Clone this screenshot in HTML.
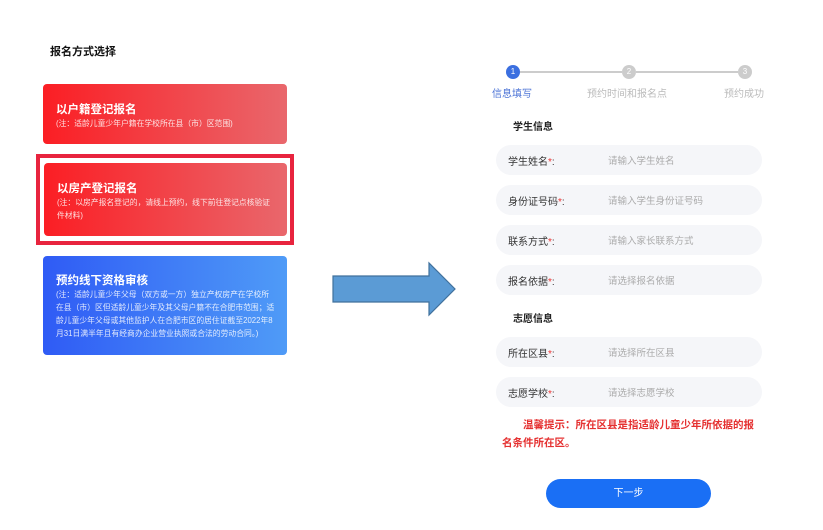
<!DOCTYPE html>
<html><head><meta charset="utf-8"><style>
*{margin:0;padding:0;box-sizing:border-box}
body{width:823px;height:530px;background:#fff;position:relative;overflow:hidden;font-family:"Liberation Sans","Noto Sans CJK SC",sans-serif}
.a{position:absolute;white-space:nowrap}
.card{position:absolute;border-radius:4px;color:#fff;padding-left:13px}
.card .t{font-size:11.5px;font-weight:bold;line-height:14px}
.card .n{font-size:7.8px;line-height:13px;opacity:.85;white-space:normal}
.row{position:absolute;left:496px;width:266px;height:30px;border-radius:15px;background:#f5f6f9}
.row .l{position:absolute;left:12px;top:8px;font-size:10px;color:#333}
.row .l b{color:#e33;font-weight:normal}
.row .p{position:absolute;left:112px;top:8px;font-size:9.5px;color:#aaa}
.sec{font-size:10px;font-weight:bold;color:#222}
.c{position:absolute;width:14px;height:14px;border-radius:50%;color:#fff;font-size:8px;text-align:center;line-height:14px}
</style></head><body>
<div class="a" style="left:50px;top:43px;font-size:11px;font-weight:bold;color:#111">报名方式选择</div>

<div class="card" style="left:43px;top:84px;width:244px;height:60px;background:linear-gradient(90deg,#fb1e24,#e9676c);padding-top:19px">
<div class="t">以户籍登记报名</div><div class="n">(注：适龄儿童少年户籍在学校所在县（市）区范围)</div></div>

<div class="a" style="left:36px;top:154px;width:258px;height:91px;border:4px solid #e8243e"></div>
<div class="card" style="left:44px;top:163px;width:243px;height:73px;background:linear-gradient(90deg,#fb1e24,#e9676c);padding-top:19px;padding-right:10px">
<div class="t">以房产登记报名</div><div class="n">(注：以房产报名登记的，请线上预约，线下前往登记点核验证件材料)</div></div>

<div class="card" style="left:43px;top:256px;width:244px;height:99px;background:linear-gradient(90deg,#2f5bf5,#4f9bf7);padding-top:18px;padding-right:12px">
<div class="t">预约线下资格审核</div><div class="n">(注：适龄儿童少年父母（双方或一方）独立产权房产在学校所在县（市）区但适龄儿童少年及其父母户籍不在合肥市范围；适龄儿童少年父母或其他监护人在合肥市区的居住证截至2022年8月31日满半年且有经商办企业营业执照或合法的劳动合同。)</div></div>

<svg class="a" style="left:0;top:0" width="823" height="530"><polygon points="333,276 429,276 429,263 455,289 429,315 429,302 333,302" fill="#5b9bd5" stroke="#41719c" stroke-width="1.2"/>
<line x1="520" y1="72" x2="622" y2="72" stroke="#ccc" stroke-width="2"/><line x1="636" y1="72" x2="738" y2="72" stroke="#ccc" stroke-width="2"/></svg>
<div class="c" style="left:506px;top:65px;background:#3b6fe0">1</div>
<div class="c" style="left:622px;top:65px;background:#ccc">2</div>
<div class="c" style="left:738px;top:65px;background:#ccc">3</div>
<div class="a" style="left:492px;top:85px;font-size:10px;color:#4a72d6">信息填写</div>
<div class="a" style="left:587px;top:85px;font-size:10px;color:#bbb">预约时间和报名点</div>
<div class="a" style="left:724px;top:85px;font-size:10px;color:#bbb">预约成功</div>

<div class="a sec" style="left:513px;top:118px">学生信息</div>
<div class="row" style="top:145px"><span class="l">学生姓名<b>*</b>:</span><span class="p">请输入学生姓名</span></div>
<div class="row" style="top:185px"><span class="l">身份证号码<b>*</b>:</span><span class="p">请输入学生身份证号码</span></div>
<div class="row" style="top:225px"><span class="l">联系方式<b>*</b>:</span><span class="p">请输入家长联系方式</span></div>
<div class="row" style="top:265px"><span class="l">报名依据<b>*</b>:</span><span class="p">请选择报名依据</span></div>
<div class="a sec" style="left:513px;top:310px">志愿信息</div>
<div class="row" style="top:337px"><span class="l">所在区县<b>*</b>:</span><span class="p">请选择所在区县</span></div>
<div class="row" style="top:377px"><span class="l">志愿学校<b>*</b>:</span><span class="p">请选择志愿学校</span></div>

<div class="a" style="left:523px;top:417px;font-size:10.5px;font-weight:bold;color:#e53030">温馨提示：所在区县是指适龄儿童少年所依据的报</div>
<div class="a" style="left:502px;top:435px;font-size:10.5px;font-weight:bold;color:#e53030">名条件所在区。</div>

<div class="a" style="left:546px;top:479px;width:165px;height:29px;border-radius:15px;background:#1a6ff5;color:#fff;font-size:10px;text-align:center;line-height:29px">下一步</div>
</body></html>
